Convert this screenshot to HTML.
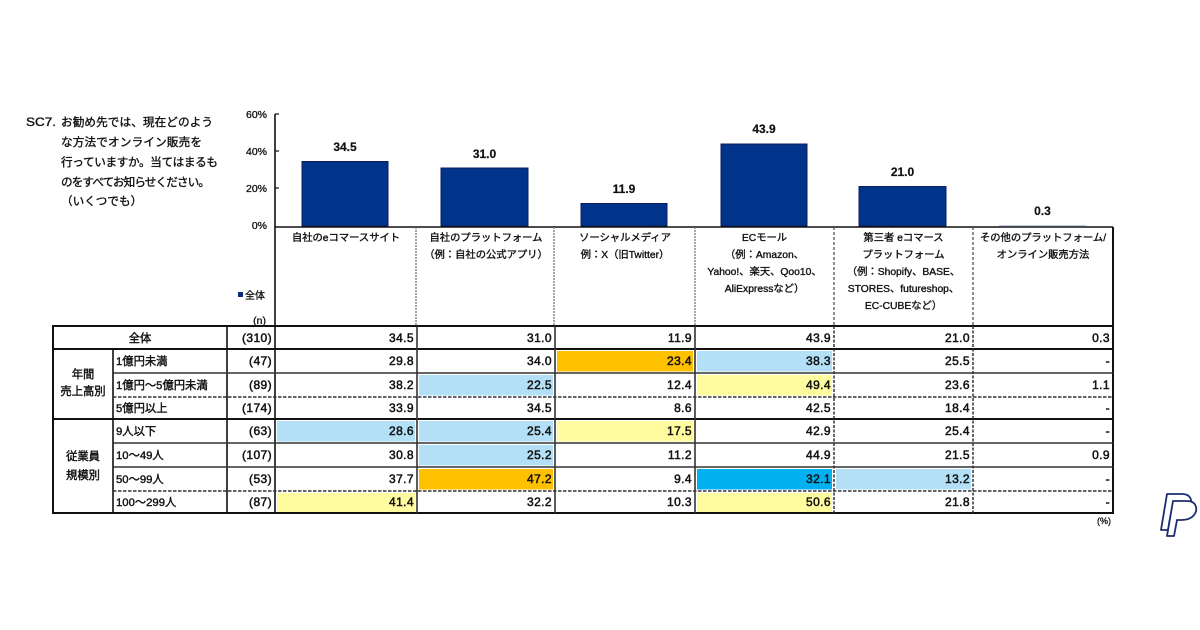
<!DOCTYPE html>
<html><head><meta charset="utf-8"><style>
html,body{margin:0;padding:0;background:#fff;}
svg{display:block;}
text{font-family:"Liberation Sans","Noto Sans CJK JP",sans-serif;fill:#111;stroke:#111;stroke-width:0.3px;}
.q{font-size:11.6px;stroke-width:0.35px;}
.ax{font-size:10.5px;text-anchor:end;}
.bl{font-size:12px;text-anchor:middle;font-weight:bold;stroke-width:0.2px;}
.hd{font-size:10.3px;text-anchor:middle;stroke-width:0.35px;}
.lb{font-size:11.3px;stroke-width:0.4px;}
.nv{font-size:12px;text-anchor:end;letter-spacing:0.4px;stroke-width:0.5px;}
.dv{font-size:12px;text-anchor:end;letter-spacing:0.4px;stroke-width:0.5px;}
</style></head><body>
<svg width="1200" height="630" viewBox="0 0 1200 630" xmlns="http://www.w3.org/2000/svg">
<rect width="1200" height="630" fill="#fff"/>

<!-- Question -->
<text class="q" x="26" y="126" textLength="30" lengthAdjust="spacingAndGlyphs">SC7.</text>
<text class="q" x="61" y="126" textLength="152" lengthAdjust="spacing">お勧め先では、現在どのよう</text>
<text class="q" x="61" y="146" textLength="141" lengthAdjust="spacing">な方法でオンライン販売を</text>
<text class="q" x="61" y="166" textLength="157" lengthAdjust="spacing">行っていますか。当てはまるも</text>
<text class="q" x="61" y="186" textLength="149" lengthAdjust="spacing">のをすべてお知らせください。</text>
<text class="q" x="61" y="205">（いくつでも）</text>

<!-- Y axis -->
<line x1="275" y1="114" x2="275" y2="513" stroke="#111" stroke-width="1.6"/>
<line x1="275" y1="114" x2="279" y2="114" stroke="#111" stroke-width="1.2"/>
<line x1="275" y1="151" x2="279" y2="151" stroke="#111" stroke-width="1.2"/>
<line x1="275" y1="188" x2="279" y2="188" stroke="#111" stroke-width="1.2"/>
<text class="ax" x="267" y="118">60%</text>
<text class="ax" x="267" y="155">40%</text>
<text class="ax" x="267" y="192">20%</text>
<text class="ax" x="267" y="229">0%</text>

<!-- Legend -->
<rect x="238" y="292" width="5" height="5" fill="#0b2a78"/>
<text x="245" y="299" style="font-size:10px">全体</text>
<text class="ax" x="266" y="324">(n)</text>

<!-- Bars -->
<g fill="#00338a" stroke="#0b1e5b" stroke-width="1">
<rect x="302" y="161.5" width="86" height="64.5"/>
<rect x="441" y="168" width="87" height="58"/>
<rect x="581" y="203.5" width="86" height="22.5"/>
<rect x="721" y="144" width="86" height="82"/>
<rect x="859" y="186.5" width="87" height="39.5"/>
</g>
<line x1="999" y1="225.5" x2="1086" y2="225.5" stroke="#b9cbe8" stroke-width="1"/>
<text class="bl" x="345" y="151">34.5</text>
<text class="bl" x="484.5" y="158">31.0</text>
<text class="bl" x="624" y="193">11.9</text>
<text class="bl" x="764" y="133">43.9</text>
<text class="bl" x="902.5" y="176">21.0</text>
<text class="bl" x="1042.5" y="215">0.3</text>

<!-- Header box -->
<line x1="275" y1="227" x2="1113" y2="227" stroke="#111" stroke-width="1.6"/>
<line x1="416" y1="227" x2="416" y2="326" stroke="#777" stroke-width="1.3" stroke-dasharray="2,1"/>
<line x1="554" y1="227" x2="554" y2="326" stroke="#777" stroke-width="1.3" stroke-dasharray="2,1"/>
<line x1="695" y1="227" x2="695" y2="326" stroke="#777" stroke-width="1.3" stroke-dasharray="2,1"/>
<line x1="834" y1="227" x2="834" y2="326" stroke="#555" stroke-width="1.3" stroke-dasharray="3,2"/>
<line x1="973" y1="227" x2="973" y2="326" stroke="#555" stroke-width="1.3" stroke-dasharray="3,2"/>
<line x1="1113" y1="227" x2="1113" y2="513" stroke="#111" stroke-width="2"/>

<text class="hd" x="346" y="241">自社のeコマースサイト</text>
<text class="hd" x="486" y="241">自社のプラットフォーム</text>
<text class="hd" x="486" y="258">（例：自社の公式アプリ）</text>
<text class="hd" x="625" y="241">ソーシャルメディア</text>
<text class="hd" x="625" y="258">例：X（旧Twitter）</text>
<text class="hd" x="764.5" y="241">ECモール</text>
<text class="hd" x="764.5" y="258">（例：Amazon、</text>
<text class="hd" x="764.5" y="275">Yahoo!、楽天、Qoo10、</text>
<text class="hd" x="764.5" y="292">AliExpressなど）</text>
<text class="hd" x="903.5" y="241">第三者 eコマース</text>
<text class="hd" x="903.5" y="258">プラットフォーム</text>
<text class="hd" x="903.5" y="275">（例：Shopify、BASE、</text>
<text class="hd" x="903.5" y="292">STORES、futureshop、</text>
<text class="hd" x="903.5" y="309">EC-CUBEなど）</text>
<text class="hd" x="1043" y="241">その他のプラットフォーム/</text>
<text class="hd" x="1043" y="258">オンライン販売方法</text>

<!-- Highlights -->
<g>
<rect x="557" y="351" width="136" height="20.5" fill="#ffc000"/>
<rect x="697" y="351" width="135" height="20.5" fill="#b3e0f7"/>
<rect x="419" y="375" width="134" height="20.5" fill="#b3e0f7"/>
<rect x="697" y="375" width="135" height="20.5" fill="#fffb9f"/>
<rect x="277" y="421" width="138" height="20.5" fill="#b3e0f7"/>
<rect x="419" y="421" width="134" height="20.5" fill="#b3e0f7"/>
<rect x="557" y="421" width="136" height="20.5" fill="#fffb9f"/>
<rect x="419" y="445" width="134" height="20.5" fill="#b3e0f7"/>
<rect x="419" y="469" width="134" height="20.5" fill="#ffc000"/>
<rect x="697" y="469" width="135" height="20.5" fill="#00b0f0"/>
<rect x="836" y="469" width="135" height="20.5" fill="#b3e0f7"/>
<rect x="277" y="493" width="138" height="19" fill="#fffb9f"/>
<rect x="697" y="493" width="135" height="19" fill="#fffb9f"/>
</g>

<!-- Table grid -->
<g stroke="#111">
<line x1="53" y1="326" x2="1114" y2="326" stroke-width="2"/>
<line x1="53" y1="349" x2="1114" y2="349" stroke-width="2"/>
<line x1="53" y1="419" x2="1114" y2="419" stroke-width="2"/>
<line x1="52" y1="513" x2="1114" y2="513" stroke-width="2"/>
<line x1="53" y1="325" x2="53" y2="514" stroke-width="2"/>
<line x1="113" y1="349" x2="113" y2="513" stroke-width="1.6"/>
<line x1="227" y1="326" x2="227" y2="513" stroke-width="1.6"/>
<line x1="417" y1="326" x2="417" y2="513" stroke="#333" stroke-width="1.6"/>
<line x1="555" y1="326" x2="555" y2="513" stroke="#333" stroke-width="1.6"/>
<line x1="695" y1="326" x2="695" y2="513" stroke="#333" stroke-width="1.6"/>
<line x1="834" y1="326" x2="834" y2="513" stroke="#333" stroke-width="1.5" stroke-dasharray="3,1.5"/>
<line x1="973" y1="326" x2="973" y2="513" stroke="#333" stroke-width="1.5" stroke-dasharray="3,1.5"/>
<line x1="113" y1="373" x2="1113" y2="373" stroke="#333" stroke-width="1.4"/>
<line x1="113" y1="397" x2="1113" y2="397" stroke="#333" stroke-width="1.4" stroke-dasharray="3.5,1.5"/>
<line x1="113" y1="443" x2="1113" y2="443" stroke="#333" stroke-width="1.4"/>
<line x1="113" y1="467" x2="1113" y2="467" stroke="#333" stroke-width="1.4"/>
<line x1="113" y1="491" x2="1113" y2="491" stroke="#333" stroke-width="1.4" stroke-dasharray="3.5,1.5"/>
</g>

<!-- Row labels -->
<text class="lb" x="140" y="342" text-anchor="middle">全体</text>
<text class="lb" x="83" y="378" text-anchor="middle">年間</text>
<text class="lb" x="83" y="395" text-anchor="middle">売上高別</text>
<text class="lb" x="83" y="460" text-anchor="middle">従業員</text>
<text class="lb" x="83" y="479" text-anchor="middle">規模別</text>
<text class="lb" x="116" y="365">1億円未満</text>
<text class="lb" x="116" y="389">1億円～5億円未満</text>
<text class="lb" x="116" y="412">5億円以上</text>
<text class="lb" x="116" y="435">9人以下</text>
<text class="lb" x="116" y="459">10～49人</text>
<text class="lb" x="116" y="483">50～99人</text>
<text class="lb" x="116" y="506">100～299人</text>

<!-- n values -->
<text class="nv" x="272" y="342">(310)</text>
<text class="nv" x="272" y="365">(47)</text>
<text class="nv" x="272" y="389">(89)</text>
<text class="nv" x="272" y="412">(174)</text>
<text class="nv" x="272" y="435">(63)</text>
<text class="nv" x="272" y="459">(107)</text>
<text class="nv" x="272" y="483">(53)</text>
<text class="nv" x="272" y="506">(87)</text>

<!-- Data values -->
<g>
<text class="dv" x="414" y="342">34.5</text><text class="dv" x="552" y="342">31.0</text><text class="dv" x="692" y="342">11.9</text><text class="dv" x="831" y="342">43.9</text><text class="dv" x="970" y="342">21.0</text><text class="dv" x="1110" y="342">0.3</text>
<text class="dv" x="414" y="365">29.8</text><text class="dv" x="552" y="365">34.0</text><text class="dv" x="692" y="365">23.4</text><text class="dv" x="831" y="365">38.3</text><text class="dv" x="970" y="365">25.5</text><text class="dv" x="1110" y="365">-</text>
<text class="dv" x="414" y="389">38.2</text><text class="dv" x="552" y="389">22.5</text><text class="dv" x="692" y="389">12.4</text><text class="dv" x="831" y="389">49.4</text><text class="dv" x="970" y="389">23.6</text><text class="dv" x="1110" y="389">1.1</text>
<text class="dv" x="414" y="412">33.9</text><text class="dv" x="552" y="412">34.5</text><text class="dv" x="692" y="412">8.6</text><text class="dv" x="831" y="412">42.5</text><text class="dv" x="970" y="412">18.4</text><text class="dv" x="1110" y="412">-</text>
<text class="dv" x="414" y="435">28.6</text><text class="dv" x="552" y="435">25.4</text><text class="dv" x="692" y="435">17.5</text><text class="dv" x="831" y="435">42.9</text><text class="dv" x="970" y="435">25.4</text><text class="dv" x="1110" y="435">-</text>
<text class="dv" x="414" y="459">30.8</text><text class="dv" x="552" y="459">25.2</text><text class="dv" x="692" y="459">11.2</text><text class="dv" x="831" y="459">44.9</text><text class="dv" x="970" y="459">21.5</text><text class="dv" x="1110" y="459">0.9</text>
<text class="dv" x="414" y="483">37.7</text><text class="dv" x="552" y="483">47.2</text><text class="dv" x="692" y="483">9.4</text><text class="dv" x="831" y="483">32.1</text><text class="dv" x="970" y="483">13.2</text><text class="dv" x="1110" y="483">-</text>
<text class="dv" x="414" y="506">41.4</text><text class="dv" x="552" y="506">32.2</text><text class="dv" x="692" y="506">10.3</text><text class="dv" x="831" y="506">50.6</text><text class="dv" x="970" y="506">21.8</text><text class="dv" x="1110" y="506">-</text>
</g>

<text x="1111" y="524" text-anchor="end" style="font-size:9px">(%)</text>

<!-- Logo -->
<g fill="#fff" stroke="#1b2d6e" stroke-width="1.8" stroke-linejoin="round">
<path d="M1167,494 L1182,494 C1192,494 1193,503 1189,508 C1186,512 1181,513 1176,513 L1171,513 L1168,530 L1161,530 Z"/>
<path d="M1173,501 L1187,501 C1197,501 1198,510 1194,515 C1191,519 1186,520 1181,520 L1177,520 L1174,536 L1167,536 Z"/>
</g>
</svg>
</body></html>
